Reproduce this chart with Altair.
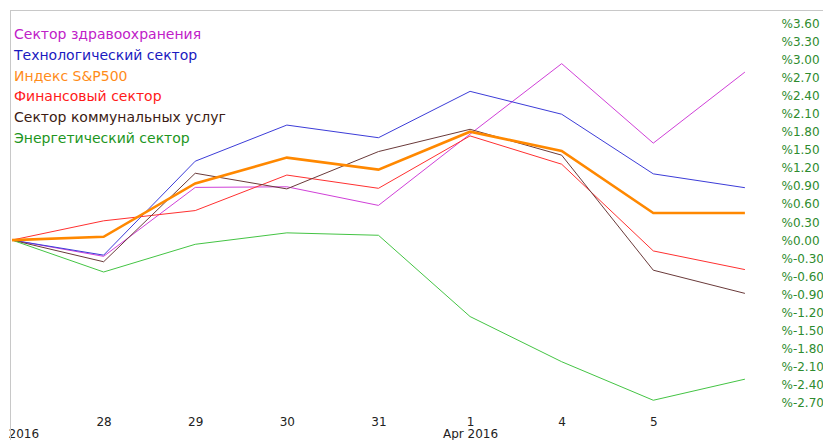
import json
import altair as alt
import pandas as pd

# ---- data ----
dates = ["2016-03-24", "2016-03-28", "2016-03-29", "2016-03-30", "2016-03-31",
         "2016-04-01", "2016-04-04", "2016-04-05", "2016-04-06"]
day_labels = ["", "28", "29", "30", "31", "1", "4", "5", ""]
month_labels = ["2016", "", "", "", "", "Apr 2016", "", "", ""]

series_names = ["Сектор здравоохранения", "Технологический сектор", "Индекс S&P500",
                "Финансовый сектор", "Сектор коммунальных услуг", "Энергетический сектор"]
line_colors = ["#d040d8", "#3c3cd8", "#ff8800", "#ff3030", "#6a3a3a", "#44c444"]
text_colors = ["#c020c8", "#1a1ac0", "#ff8c1a", "#ff1a1a", "#3c1c14", "#1e961e"]

health = [0, -0.27, 0.875, 0.885, 0.576, 1.76, 2.93, 1.61, 2.79]
tech = [0, -0.25, 1.31, 1.91, 1.70, 2.47, 2.09, 1.10, 0.87]
sp500 = [0, 0.055, 0.94, 1.37, 1.17, 1.80, 1.48, 0.45, 0.45]
financial = [0, 0.32, 0.49, 1.08, 0.86, 1.73, 1.26, -0.18, -0.49]
utilities = [0, -0.36, 1.11, 0.85, 1.47, 1.84, 1.41, -0.50, -0.885]
energy = [0, -0.53, -0.07, 0.12, 0.08, -1.27, -2.02, -2.66, -2.31]

y_ticks = [-2.7, -2.4, -2.1, -1.8, -1.5, -1.2, -0.9, -0.6, -0.3, 0.0,
           0.3, 0.6, 0.9, 1.2, 1.5, 1.8, 2.1, 2.4, 2.7, 3.0, 3.3, 3.6]

all_series = [health, tech, sp500, financial, utilities, energy]

rows = []
for name, vals in zip(series_names, all_series):
    for i, (d, v) in enumerate(zip(dates, vals)):
        rows.append({"name": name, "date": d, "idx": i, "value": v})
df = pd.DataFrame(rows)
legend_df = pd.DataFrame({"name": series_names})

W, H = 771, 402

line_scale = alt.Scale(domain=series_names, range=line_colors)
text_scale = alt.Scale(domain=series_names, range=text_colors)

label_expr = "[" + json.dumps(day_labels) + "[datum.value], " + json.dumps(month_labels) + "[datum.value]]"

x_enc = alt.X(
    "idx:Q",
    scale=alt.Scale(domain=[-0.0219, 8.394], nice=False, zero=False),
    axis=alt.Axis(
        values=list(range(8)), labelExpr=label_expr, domain=False, ticks=False,
        grid=False, title=None, labelFontSize=12, labelFont="DejaVu Sans",
        labelColor="#222222", labelPadding=4, labelLineHeight=12.5,
        labelBaseline="top", labelFlush=False, labelOverlap=False,
        labelAlign={"condition": {"test": "datum.value == 0", "value": "left"}, "value": "center"},
        labelOffset={"condition": {"test": "datum.value == 0", "value": -4}, "value": 0},
    ),
)
y_enc = alt.Y(
    "value:Q",
    scale=alt.Scale(domain=[-2.855, 3.821], nice=False, zero=False),
    axis=alt.Axis(
        orient="right", values=y_ticks,
        labelExpr="'%' + (datum.value < 0 ? '-' : '') + format(abs(datum.value), '.2f')",
        domain=False, ticks=False, grid=False, title=None, labelColor="#2e8b2e",
        labelFontSize=12, labelFont="DejaVu Sans", labelPadding=0, labelAlign="left",
        labelBaseline="middle", labelOverlap=False,
    ),
)

thin = alt.Chart(df).transform_filter(
    alt.datum.name != "Индекс S&P500"
).mark_line(strokeWidth=1).encode(
    x=x_enc, y=y_enc,
    color=alt.Color("name:N", scale=line_scale, legend=None),
    detail="name:N",
)
thick = alt.Chart(df).transform_filter(
    alt.datum.name == "Индекс S&P500"
).mark_line(strokeWidth=2.6).encode(
    x=x_enc, y=y_enc,
    color=alt.Color("name:N", scale=line_scale, legend=None),
)
lines = alt.layer(thin, thick)

legend_text = alt.Chart(legend_df).mark_text(
    align="left", baseline="middle", font="DejaVu Sans", fontSize=14
).encode(
    x=alt.value(4),
    y=alt.Y("name:N", sort=series_names,
            scale=alt.Scale(type="point", range=[25, 129], padding=0), axis=None),
    text="name:N",
    color=alt.Color("name:N", scale=text_scale, legend=None),
)

frame_df = pd.DataFrame({"a": [0]})
left_border = alt.Chart(frame_df).mark_rule(color="#c8c8c8", strokeWidth=1).encode(
    x=alt.value(0.5), y=alt.value(0), y2=alt.value(H + 40)
)
top_border = alt.Chart(frame_df).mark_rule(color="#c8c8c8", strokeWidth=1).encode(
    x=alt.value(0), x2=alt.value(W + 60), y=alt.value(0.5)
)

chart = alt.layer(lines, legend_text, left_border, top_border).resolve_scale(
    y="independent", color="independent"
).properties(
    width=W, height=H, autosize="none",
    padding={"left": 2, "top": 2, "right": 42, "bottom": 28},
    background="white",
).configure_view(stroke=None)

chart.save("out.html", embed_options={"renderer": "svg", "actions": False})
